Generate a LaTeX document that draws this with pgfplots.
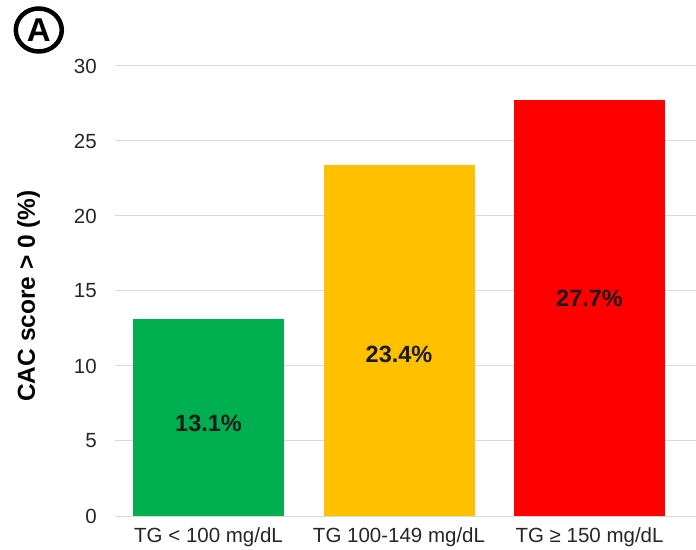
\documentclass[border=0pt]{standalone}
\usepackage{pgfplots}
\pgfplotsset{compat=1.18}
\usepackage{pgfplotstable}
\usepackage{fontspec}
\setmainfont{Liberation Sans}

\definecolor{cgreen}{HTML}{00B050}
\definecolor{cyellow}{HTML}{FFC000}
\definecolor{cred}{HTML}{FF0000}
\definecolor{cgrid}{HTML}{D9D9D9}
\definecolor{clab}{HTML}{1A1A1A}

% x, CAC>0 percentage, height of the value label
\pgfplotstableread{
x  y     ly
0  13.1  6.17
1  23.4  10.8
2  27.7  14.5
}\cac

\begin{document}
\begin{tikzpicture}
\begin{axis}[
    scale only axis,
    width=581bp, height=450bp,
    xmin=-0.491, xmax=2.559,
    ymin=0, ymax=30,
    ytick={0,5,...,30},
    xtick={0,1,2},
    xticklabels={TG < 100 mg/dL, TG 100-149 mg/dL, TG ≥ 150 mg/dL},
    axis line style={draw=none},
    tick style={draw=none},
    ymajorgrids,
    grid style={cgrid, line width=1bp},
    ticklabel style={font=\fontsize{20.5bp}{24bp}\selectfont, text=black!85},
    yticklabel style={inner sep=0pt, anchor=east, xshift=-18bp},
    xticklabel style={inner sep=0pt, anchor=north, yshift=-11bp},
    /pgf/number format/assume math mode=true,
    ylabel={CAC score > 0 (\%)},
    every axis y label/.style={at={(axis description cs:-0.149,0.489)},
        rotate=90, anchor=center,
        font=\fontsize{24.5bp}{28bp}\selectfont\bfseries},
    clip=false,
]
\addplot[ybar, bar width=151bp, bar shift=0pt, fill=cgreen, draw=none]
    table[x=x, y=y, restrict expr to domain={\thisrow{x}}{0:0}] {\cac};
\addplot[ybar, bar width=151bp, bar shift=0pt, fill=cyellow, draw=none]
    table[x=x, y=y, restrict expr to domain={\thisrow{x}}{1:1}] {\cac};
\addplot[ybar, bar width=151bp, bar shift=0pt, fill=cred, draw=none]
    table[x=x, y=y, restrict expr to domain={\thisrow{x}}{2:2}] {\cac};
% value labels
\addplot[only marks, mark=none,
    point meta=\thisrow{y},
    nodes near coords={\pgfmathprintnumber[fixed,fixed zerofill,precision=1,assume math mode=true]{\pgfplotspointmeta}\%},
    nodes near coords align=center,
    every node near coord/.append style={anchor=center, inner sep=0pt, text=clab,
        font=\fontsize{23.5bp}{28bp}\selectfont\bfseries}]
    table[x=x, y=ly] {\cac};
\end{axis}
% panel letter
\draw[line width=4.5bp] (-76.2bp,486bp) ellipse [x radius=23bp, y radius=21.5bp];
\node[font=\fontsize{33bp}{36bp}\selectfont\bfseries, inner sep=0pt] at (-76.2bp,486bp) {A};
\pgfresetboundingbox
\useasboundingbox (-115bp,-34bp) rectangle (581bp,516bp);
\end{tikzpicture}
\end{document}
